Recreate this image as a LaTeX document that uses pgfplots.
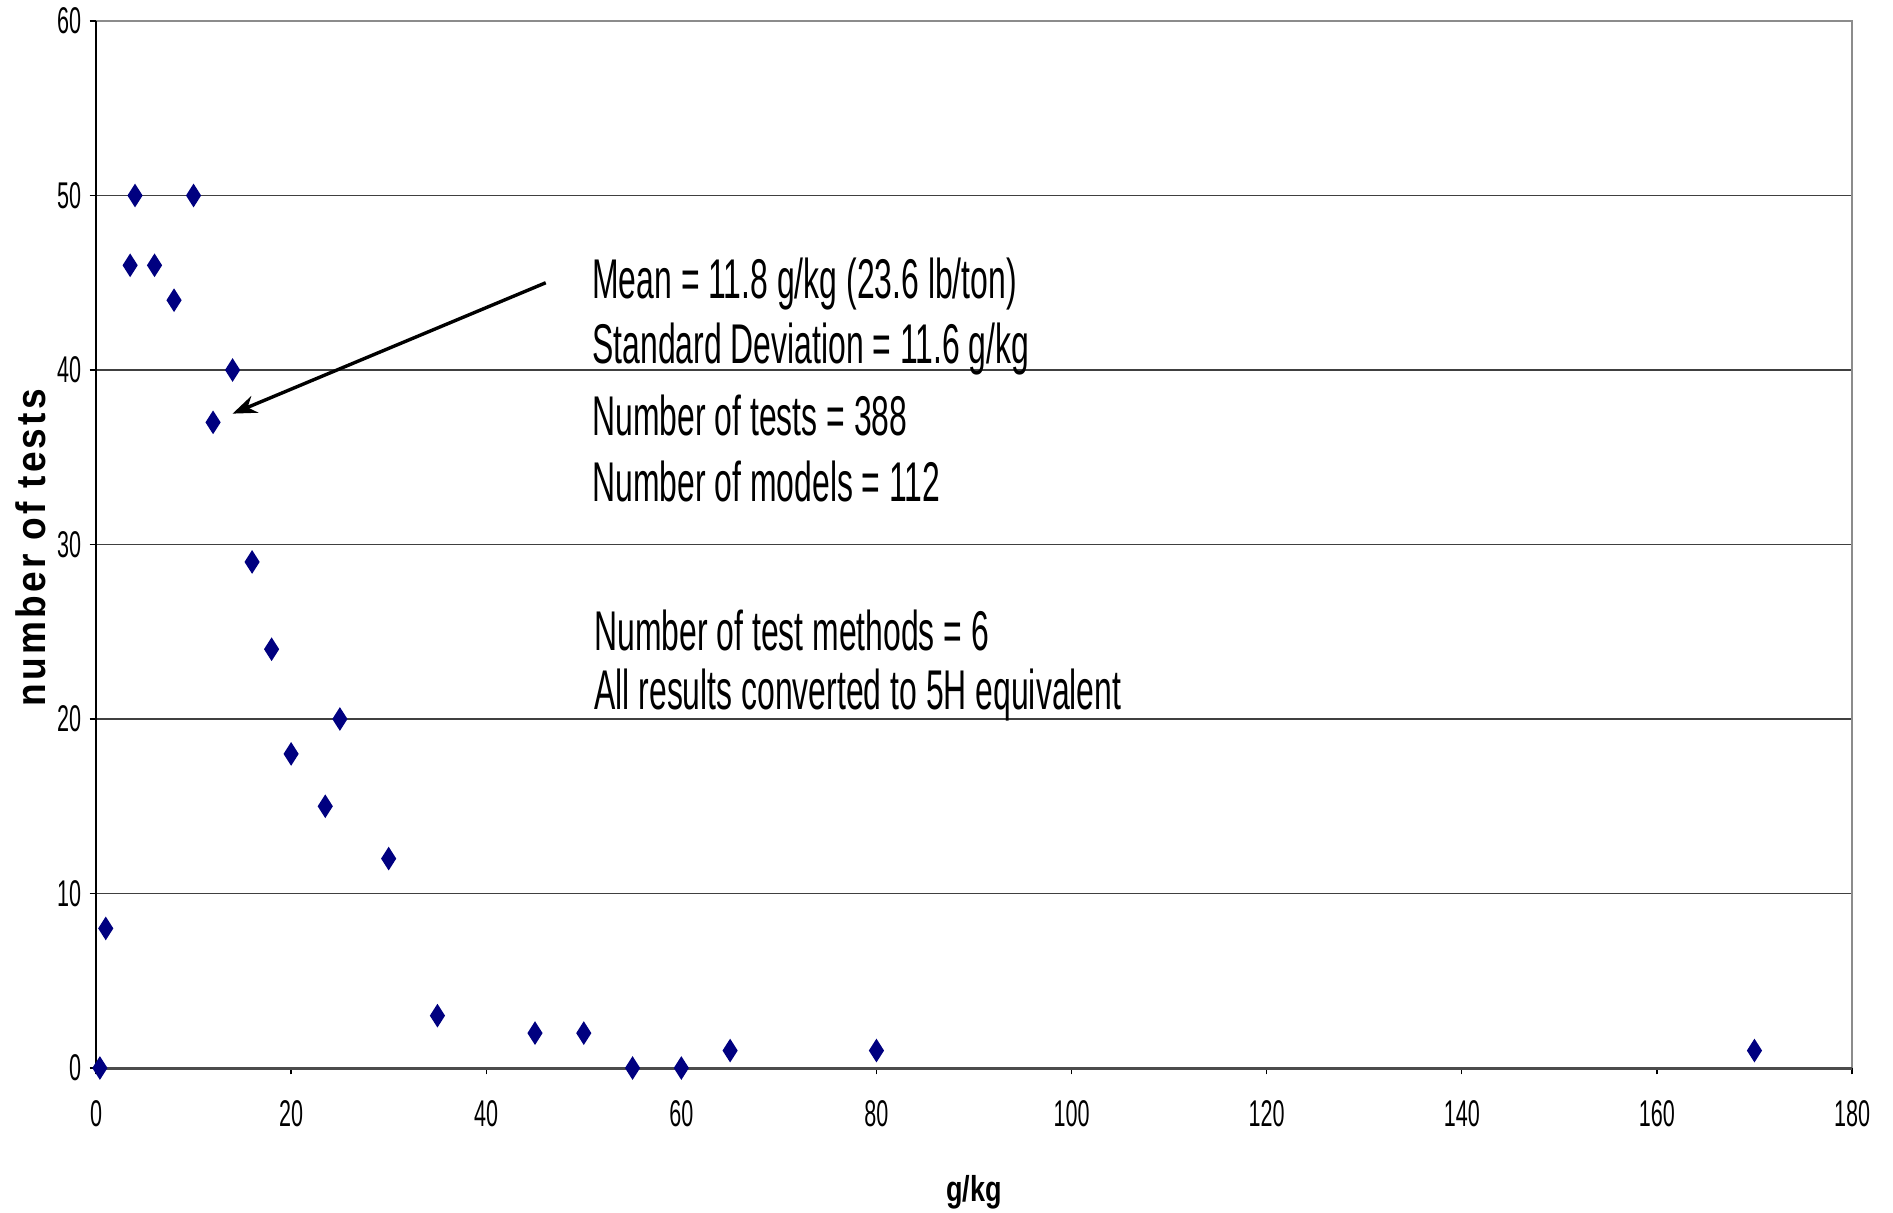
\documentclass[border=0pt]{standalone}
\usepackage{fontspec}
\setmainfont{Liberation Sans}[FakeStretch=0.57]
\newfontfamily\tickfont{Liberation Sans}[FakeStretch=0.58]
\newfontfamily\ylabfont{Liberation Sans}[FakeStretch=0.9, LetterSpace=8]
\newfontfamily\xlabfont{Liberation Sans}[FakeStretch=0.75]
\usepackage{pgfplots}
\pgfplotsset{compat=1.18}
\usetikzlibrary{arrows.meta,calc}
\definecolor{navy}{HTML}{000080}
\begin{document}
\begin{tikzpicture}
\begin{axis}[
  scale only axis,
  width=439pt,
  height=261.75pt,
  xmin=0, xmax=180,
  ymin=0, ymax=60,
  xtick={0,20,...,180},
  ytick={0,10,...,60},
  xtick pos=left, ytick pos=left,
  tick align=outside,
  major tick length=1.6pt,
  tick style={black, line width=0.35pt},
  axis line style={draw=none},
  ymajorgrids,
  grid style={black!75, line width=0.3pt},
  ticklabel style={font=\tickfont\fontsize{9.3}{10}\selectfont},
  /pgf/number format/assume math mode=true,
  yticklabel style={xshift=1.4pt},
  xticklabel style={yshift=-3pt},
  xlabel={\xlabfont\bfseries g/kg},
  xlabel style={at={(axis description cs:0.5,0)}, anchor=center, yshift=-31pt, font=\fontsize{9}{10}\selectfont},
  ylabel={\ylabfont\bfseries number of tests},
  ylabel style={at={(axis description cs:0,0.5)}, anchor=center, yshift=16.2pt, xshift=-0.8pt, font=\fontsize{10.3}{12}\selectfont},
  clip=false,
]
\coordinate (sw) at (rel axis cs:0,0);
\coordinate (ne) at (rel axis cs:1,1);
% plot area border
\draw[gray!90, line width=0.55pt] (rel axis cs:0,1) -- (rel axis cs:1,1) -- (rel axis cs:1,0);
\draw[black!70, line width=0.75pt] (rel axis cs:0,0) -- (rel axis cs:1,0);
\draw[black, line width=0.4pt] (rel axis cs:0,0) -- (rel axis cs:0,1);

\addplot[only marks, mark=diamond*, mark size=2.6pt, mark options={xscale=0.85, fill=navy, draw=navy}] coordinates {
(0.4,0)
(1,8)
(3.5,46)
(4,50)
(6,46)
(8,44)
(10,50)
(12,37)
(14,40)
(16,29)
(18,24)
(20,18)
(23.5,15)
(25,20)
(30,12)
(35,3)
(45,2)
(50,2)
(55,0)
(60,0)
(65,1)
(80,1)
(170,1)
};

\draw[-{Stealth[length=6pt,width=4.5pt]}, line width=0.85pt] (axis cs:46.1,45.0) -- (axis cs:14.0,37.5);

\begin{scope}[every node/.style={anchor=west, inner sep=0pt, font=\fontsize{14}{16}\selectfont}]
\node at (axis cs:50.8,44.9) {Mean = 11.8 g/kg (23.6 lb/ton)};
\node at (axis cs:50.8,41.2) {Standard Deviation = 11.6 g/kg};
\node at (axis cs:50.8,37.4) {Number of tests = 388};
\node at (axis cs:50.8,33.6) {Number of models = 112};
\node at (axis cs:51.0,25.1) {Number of test methods = 6};
\node at (axis cs:51.0,21.4) {All results converted to 5H equivalent};
\end{scope}
\end{axis}
\pgfresetboundingbox
\path[use as bounding box] ($(sw)+(-24pt,-36pt)$) rectangle ($(ne)+(10.25pt,5.25pt)$);
\end{tikzpicture}
\end{document}
